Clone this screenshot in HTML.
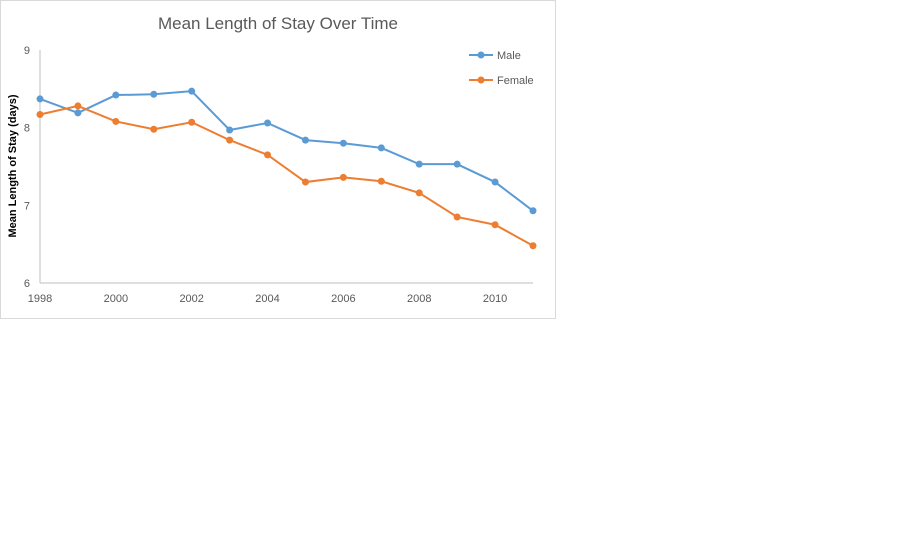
<!DOCTYPE html>
<html><head><meta charset="utf-8"><style>
body{margin:0;background:#fff;width:900px;height:540px;overflow:hidden;font-family:"Liberation Sans",sans-serif}
</style></head><body>
<svg width="900" height="540">
<rect x="0.5" y="0.5" width="555" height="318" fill="#fff" stroke="#d9d9d9"/>
<text x="278" y="29" text-anchor="middle" font-size="17" fill="#595959">Mean Length of Stay Over Time</text>
<text transform="translate(16,166) rotate(-90)" text-anchor="middle" font-size="11" font-weight="bold" fill="#000">Mean Length of Stay (days)</text>
<g id="axes"></g>
<g id="series"></g>
<g>
<line x1="469" y1="55" x2="493" y2="55" stroke="#5b9bd5" stroke-width="2"/><circle cx="481" cy="55" r="3.5" fill="#5b9bd5"/>
<text x="497" y="59" font-size="11" fill="#595959">Male</text>
<line x1="469" y1="80" x2="493" y2="80" stroke="#ed7d31" stroke-width="2"/><circle cx="481" cy="80" r="3.5" fill="#ed7d31"/>
<text x="497" y="84" font-size="11" fill="#595959">Female</text>
</g>
</svg>
<script>
const years=[1998,1999,2000,2001,2002,2003,2004,2005,2006,2007,2008,2009,2010,2011];
const male=[8.37,8.19,8.42,8.43,8.47,7.97,8.06,7.84,7.80,7.74,7.53,7.53,7.30,6.93];
const female=[8.17,8.28,8.08,7.98,8.07,7.84,7.65,7.30,7.36,7.31,7.16,6.85,6.75,6.48];
const yTicks=[6,7,8,9];
const xTicks=[1998,2000,2002,2004,2006,2008,2010];
const NS="http://www.w3.org/2000/svg";
const x0=40,x1=533,yTop=50,yBot=283;
function xs(v){return x0+(v-years[0])/(years[years.length-1]-years[0])*(x1-x0);}
function ys(v){return yBot-(v-6)/(9-6)*(yBot-yTop);}
function mk(t,a,p){const e=document.createElementNS(NS,t);for(const k in a)e.setAttribute(k,a[k]);p.appendChild(e);return e;}
const ax=document.getElementById('axes');
const yl=mk('line',{x1:x0,y1:yTop,x2:x0,y2:yBot,stroke:'#bfbfbf'},ax);


const xl=mk('line',{x1:x0,y1:yBot,x2:x1,y2:yBot,stroke:'#bfbfbf'},ax);


yTicks.forEach(v=>{const t=mk('text',{x:30,y:ys(v)+4,'text-anchor':'end','font-size':11,fill:'#595959'},ax);t.textContent=v;

});
xTicks.forEach(v=>{const t=mk('text',{x:xs(v),y:302,'text-anchor':'middle','font-size':11,fill:'#595959'},ax);t.textContent=v;

});
const sg=document.getElementById('series');
[[male,'#5b9bd5','male'],[female,'#ed7d31','female']].forEach(([d,c,n])=>{
const pl=mk('polyline',{points:d.map((v,i)=>xs(years[i])+','+ys(v)).join(' '),fill:'none',stroke:c,'stroke-width':2},sg);


d.forEach((v,i)=>{const p=mk('circle',{cx:xs(years[i]),cy:ys(v),r:3.5,fill:c},sg);

});
});
</script>
</body></html>
